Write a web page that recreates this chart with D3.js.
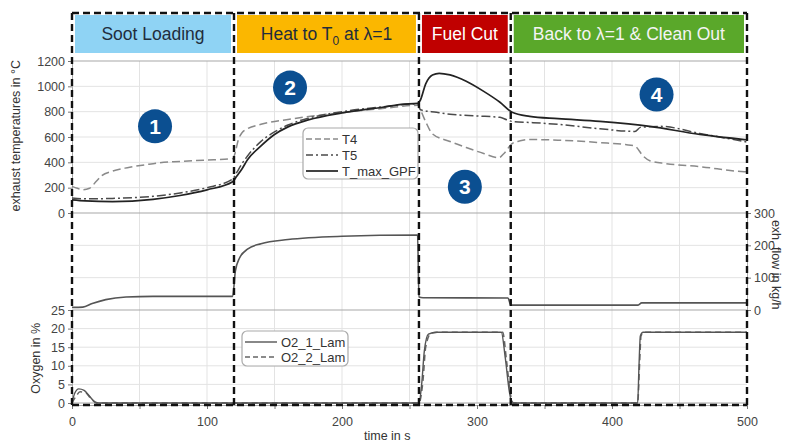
<!DOCTYPE html>
<html>
<head>
<meta charset="utf-8">
<script src="https://cdn.jsdelivr.net/npm/d3@7"></script>
<style>
  html, body { margin: 0; padding: 0; background: #fff; }
  svg { display: block; font-family: "Liberation Sans", Arial, sans-serif; }
</style>
</head>
<body>
<svg id="chart" width="788" height="443"></svg>
<script>
// ---- data ----------------------------------------------------------------
// test phases (time in s)
const phases = [
  { start: 0,   end: 120, label: "Soot Loading", fill: "#8fd3f4", text: "#1f2d3d" },
  { start: 120, end: 257, label: "Heat to T|0| at λ=1", fill: "#fbb700", text: "#1f2d3d" },
  { start: 257, end: 325, label: "Fuel Cut", fill: "#c00000", text: "#ffffff" },
  { start: 325, end: 500, label: "Back to λ=1 & Clean Out", fill: "#5aa82a", text: "#f4f4f4" }
];

// exhaust temperatures in °C, [time s, value]
const t4 = [[0,210],[4,195],[8,183],[13,195],[18,250],[22,295],[30,330],[41,358],[55,382],[65,397],[80,407],
  [90,413],[105,420],[119,429],[121,480],[123,570],[126,635],[130,665],[140,700],[160,738],[180,768],
  [200,792],[230,825],[256,850],[258,815],[262,720],[267,625],[280,565],[292,517],[305,470],[316,436],
  [320,470],[326,548],[332,570],[339,580],[360,575],[391,556],[410,540],[417,528],[423,450],[428,413],
  [440,390],[465,366],[498,326],[500,325]];
const t5 = [[0,119],[10,112],[30,115],[60,132],[80,158],[100,200],[119,268],[122,320],[126,390],[130,450],
  [140,565],[150,640],[160,695],[175,748],[200,800],[230,838],[256,862],[258,815],[270,795],[280,780],
  [300,766],[317,755],[322,736],[326,723],[339,715],[360,700],[391,665],[417,644],[421,676],[436,684],
  [465,628],[498,564],[500,560]];
const tMax = [[0,103],[10,95],[30,90],[60,108],[80,138],[100,183],[119,246],[122,290],[126,350],[130,420],
  [140,530],[150,620],[160,680],[175,735],[200,790],[230,835],[244,858],[256,866],[258,890],[262,1020],
  [267,1090],[272,1103],[280,1090],[292,1040],[305,960],[317,874],[326,795],[339,763],[360,745],[391,723],
  [428,684],[465,620],[498,580],[500,578]];

// exhaust mass flow in kg/h
const flow = [[0,8],[8,9],[15,20],[25,32],[40,40],[60,42],[119,42],[121,120],[124,160],[130,188],[140,205],
  [160,218],[200,228],[256,232],[257,40],[260,38],[323,37],[325,15],[419,15],[422,22],[500,22]];

// oxygen in %
const o2a = [[0,0],[2,2.6],[5,3.8],[9,3.4],[13,1.8],[17,0.3],[20,0],[257,0],[259,5],[261,14],[264,18.5],
  [270,19],[318,19],[321,12],[324,3],[326,0],[419,0],[420,10],[421,18],[423,19],[500,19]];
const o2b = [[0,0],[3,1.8],[6,3.0],[10,2.8],[14,1.2],[18,0],[257,0],[260,6],[262,15],[266,18.8],
  [272,19],[319,19],[322,11],[325,2],[327,0],[419,0],[420.5,11],[421.5,18],[424,19],[500,19]];

// numbered markers [label, time s, temperature °C]
const markers = [["1",61.5,684],["2",161.5,990],["3",291,207],["4",433,935]];

const tempTicks = [0,200,400,600,800,1000,1200];
const flowTicks = [0,100,200,300];
const o2Ticks = [0,5,10,15,20,25];
const timeTicks = [0,50,100,150,200,250,300,350,400,450,500];

// ---- scales --------------------------------------------------------------
const svg = d3.select("#chart");
const x = d3.scaleLinear([0,500],[72,747]);
const yT = d3.scaleLinear([0,1200],[213,61]);
const yF = d3.scaleLinear([0,300],[310,213]);
const yO = d3.scaleLinear([0,25],[403,310]);

const grid = "#e3e3e3", frameGray = "#a8a8a8", tickCol = "#444";
const plain = d3.format("d");

// ---- gridlines -----------------------------------------------------------
const g = svg.append("g");
function hGrid(scale, vals) {
  g.selectAll(null).data(vals).enter().append("line")
    .attr("x1", x(0)).attr("x2", x(500))
    .attr("y1", d => scale(d)).attr("y2", d => scale(d))
    .attr("stroke", grid).attr("stroke-width", 1);
}
hGrid(yT, [200,400,600,800,1000]);
hGrid(yF, [100,200]);
hGrid(yO, [5,10,15,20]);
g.selectAll(null).data(timeTicks.slice(1,-1)).enter().append("line")
  .attr("x1", d => x(d)).attr("x2", d => x(d))
  .attr("y1", yT(1200)).attr("y2", yO(0))
  .attr("stroke", grid).attr("stroke-width", 1);

// panel borders
[yT(1200), yT(0), yF(0), yO(0)].forEach(v => {
  svg.append("line").attr("x1", x(0)).attr("x2", x(500)).attr("y1", v).attr("y2", v)
    .attr("stroke", frameGray).attr("stroke-width", 1.2);
});

// ---- axes ----------------------------------------------------------------
function styleAxis(sel) {
  sel.selectAll("path").attr("stroke", frameGray);
  sel.selectAll("line").attr("stroke", "#777");
  sel.selectAll("text").attr("fill", tickCol).style("font-size", "12.5px")
    .style("font-family", "'Liberation Sans', Arial, sans-serif");
}
svg.append("g").attr("transform", `translate(${x(0)},0)`)
  .call(d3.axisLeft(yT).tickValues(tempTicks).tickFormat(plain).tickSize(4).tickPadding(3).tickSizeOuter(0))
  .call(styleAxis);
svg.append("g").attr("transform", `translate(${x(500)},0)`)
  .call(d3.axisRight(yF).tickValues(flowTicks).tickFormat(plain).tickSize(4).tickPadding(3).tickSizeOuter(0))
  .call(styleAxis);
svg.append("g").attr("transform", `translate(${x(0)},0)`)
  .call(d3.axisLeft(yO).tickValues(o2Ticks).tickFormat(plain).tickSize(4).tickPadding(3).tickSizeOuter(0))
  .call(styleAxis);
svg.append("g").attr("transform", `translate(0,${yO(0) + 2})`)
  .call(d3.axisBottom(x).tickValues(timeTicks).tickSize(4).tickPadding(8).tickSizeOuter(0)
    .tickFormat(d => d % 100 === 0 ? plain(d) : ""))
  .call(styleAxis);

// axis titles
const titleStyle = s => s.attr("fill", "#333").style("font-size", "12.5px");
svg.append("text").attr("transform", `translate(20,${yT(610)}) rotate(-90)`)
  .attr("text-anchor", "middle").text("exhaust temperatures in °C").call(titleStyle);
svg.append("text").attr("transform", `translate(40,${yO(12)}) rotate(-90)`)
  .attr("text-anchor", "middle").text("Oxygen in %").call(titleStyle);
svg.append("text").attr("transform", `translate(772,${yF(140)}) rotate(90)`)
  .attr("text-anchor", "middle").text("exh. flow in kg/h").call(titleStyle);
svg.append("text").attr("x", 364).attr("y", 440).text("time in s").call(titleStyle);

// ---- series --------------------------------------------------------------
function drawLine(data, yScale, color, width, dash) {
  const line = d3.line().x(d => x(d[0])).y(d => yScale(d[1])).curve(d3.curveMonotoneX);
  svg.append("path").datum(data).attr("d", line)
    .attr("fill", "none").attr("stroke", color).attr("stroke-width", width)
    .attr("stroke-dasharray", dash || null).attr("stroke-linejoin", "round");
}
drawLine(t4, yT, "#8a8a8a", 1.5, "8,4");
drawLine(t5, yT, "#4a4a4a", 1.5, "9,3,2,3");
drawLine(tMax, yT, "#222", 1.7);
drawLine(flow, yF, "#555", 1.6);
drawLine(o2b, yO, "#666", 1.5, "6,4");
drawLine(o2a, yO, "#555", 1.4);

// ---- phase frame ---------------------------------------------------------
const frameTop = 13, frameBottom = 405;
const dashed = s => s.attr("stroke", "#111").attr("stroke-width", 2.4).attr("stroke-dasharray", "7,4").attr("fill", "none");
svg.append("line").attr("x1", x(0)).attr("x2", x(500)).attr("y1", frameTop).attr("y2", frameTop).call(dashed);
svg.append("line").attr("x1", x(0)).attr("x2", x(500)).attr("y1", frameBottom).attr("y2", frameBottom).call(dashed);
svg.selectAll(null).data([0, ...phases.map(p => p.end)]).enter().append("line")
  .attr("x1", d => x(d)).attr("x2", d => x(d)).attr("y1", frameTop).attr("y2", frameBottom).call(dashed);

// ---- phase banner --------------------------------------------------------
const banner = svg.selectAll(null).data(phases).enter().append("g");
banner.append("rect")
  .attr("x", d => x(d.start) + 3).attr("y", 15)
  .attr("width", d => x(d.end) - x(d.start) - 6).attr("height", 38)
  .attr("fill", d => d.fill);
banner.append("text")
  .attr("x", d => (x(d.start) + x(d.end)) / 2).attr("y", 40)
  .attr("text-anchor", "middle").attr("fill", d => d.text).style("font-size", "17.5px")
  .each(function(d) {
    const parts = d.label.split("|");
    const t = d3.select(this);
    t.append("tspan").text(parts[0]);
    if (parts.length > 1) {
      t.append("tspan").attr("dy", 5).style("font-size", "12px").text(parts[1]);
      t.append("tspan").attr("dy", -5).text(parts[2]);
    }
  });

// ---- legends -------------------------------------------------------------
function legend(x0, y0, w, h, items) {
  const lg = svg.append("g");
  lg.append("rect").attr("x", x0).attr("y", y0).attr("width", w).attr("height", h)
    .attr("rx", 5).attr("fill", "#fff").attr("stroke", "#aaa").attr("stroke-width", 1.2);
  items.forEach((it, i) => {
    const yy = y0 + 11 + i * it.step;
    lg.append("line").attr("x1", x0 + 3).attr("x2", x0 + it.len).attr("y1", yy).attr("y2", yy)
      .attr("stroke", it.color).attr("stroke-width", it.width).attr("stroke-dasharray", it.dash || null);
    lg.append("text").attr("x", x0 + it.len + 4).attr("y", yy + 4.5).attr("fill", "#333")
      .style("font-size", "13px").text(it.name);
  });
}
legend(303, 128, 115, 51, [
  { name: "T4", color: "#8a8a8a", width: 1.5, dash: "6,3", len: 35, step: 16 },
  { name: "T5", color: "#4a4a4a", width: 1.5, dash: "7,3,2,3", len: 35, step: 16 },
  { name: "T_max_GPF", color: "#222", width: 1.7, len: 35, step: 16 }
]);
legend(242, 331, 106, 35, [
  { name: "O2_1_Lam", color: "#555", width: 1.4, len: 35, step: 15 },
  { name: "O2_2_Lam", color: "#666", width: 1.4, dash: "5,3", len: 35, step: 15 }
]);

// ---- numbered markers ----------------------------------------------------
const mk = svg.selectAll(null).data(markers).enter().append("g")
  .attr("transform", d => `translate(${x(d[1])},${yT(d[2])})`);
mk.append("circle").attr("r", 17).attr("fill", "#0b4f91");
mk.append("text").attr("text-anchor", "middle").attr("y", 7.5).attr("fill", "#fff")
  .style("font-size", "21px").style("font-weight", "bold").text(d => d[0]);
</script>
</body>
</html>
